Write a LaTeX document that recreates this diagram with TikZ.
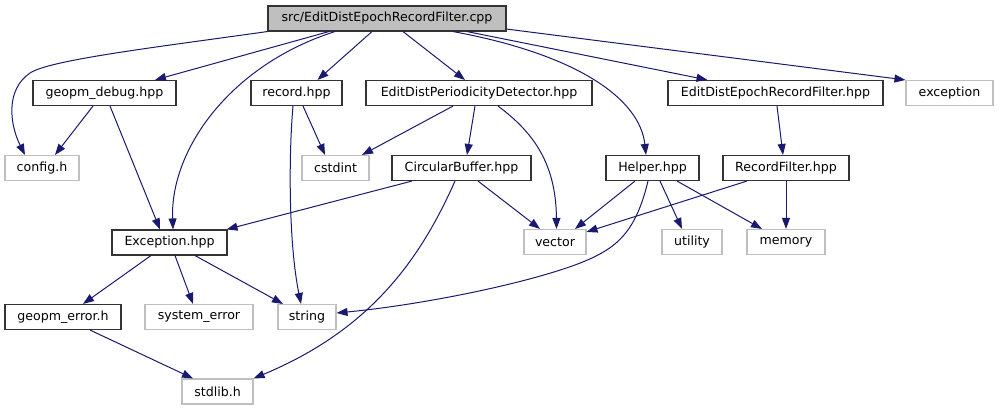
\documentclass[tikz,border=0pt]{standalone}
\usepackage{fontspec}
\setmainfont{DejaVu Sans}
\usetikzlibrary{arrows.meta}
\definecolor{edgec}{RGB}{25,25,112}
\definecolor{graybd}{RGB}{191,191,191}
\begin{document}
\begin{tikzpicture}[x=1pt,y=-1pt,
  box/.style={draw=black!80, line width=1.1pt, minimum height=25pt, inner sep=0pt, font=\fontsize{12.6}{14}\selectfont, fill=white},
  ext/.style={box, draw=graybd},
  rootbox/.style={box, fill=graybd},
  dep/.style={draw=edgec, line width=1pt, -{Triangle[length=11pt,width=8pt]}}]
\useasboundingbox (0,0) rectangle (999,411);
% nodes
\node[rootbox, minimum width=238pt] (root) at (387,18.5) {src/EditDistEpochRecordFilter.cpp};
\node[box, minimum width=143pt] (geopmdebug) at (104.5,93) {geopm\_debug.hpp};
\node[box, minimum width=91pt] (record) at (296.5,93) {record.hpp};
\node[box, minimum width=226pt] (edpd) at (479,93) {EditDistPeriodicityDetector.hpp};
\node[box, minimum width=215pt] (ederfh) at (775.5,93) {EditDistEpochRecordFilter.hpp};
\node[ext, minimum width=87pt] (exception) at (949.5,93) {exception};
\node[ext, minimum width=74pt] (config) at (42,168) {config.h};
\node[ext, minimum width=67pt] (cstdint) at (335.5,168) {cstdint};
\node[box, minimum width=139pt] (circ) at (461.5,168) {CircularBuffer.hpp};
\node[box, minimum width=93pt] (helper) at (652.5,168) {Helper.hpp};
\node[box, minimum width=126pt] (recfilt) at (786,168) {RecordFilter.hpp};
\node[box, minimum width=115pt] (exc) at (169.5,242.5) {Exception.hpp};
\node[ext, minimum width=62pt] (vector) at (555,242) {vector};
\node[ext, minimum width=60pt] (utility) at (692,242) {utility};
\node[ext, minimum width=78pt] (memory) at (786,242) {memory};
\node[box, minimum width=116pt] (gerr) at (63,317) {geopm\_error.h};
\node[ext, minimum width=108pt] (syserr) at (199,317) {system\_error};
\node[ext, minimum width=58pt] (string) at (307,317) {string};
\node[ext, minimum width=71pt] (stdlib) at (217.5,391.5) {stdlib.h};
% edges
\draw[dep] (root.south west) .. controls (150,48) and (50,60) .. (30,73) .. controls (5,90) and (10,125) .. ([xshift=-17pt]config.north);
\draw[dep] ([xshift=-58pt]root.south) -- ([xshift=50.5pt]geopmdebug.north);
\draw[dep] ([xshift=-52pt]root.south) .. controls (230,65) and (170,150) .. ([xshift=3.5pt]exc.north);
\draw[dep] ([xshift=-15pt]root.south) -- ([xshift=21pt]record.north);
\draw[dep] ([xshift=16pt]root.south) -- ([xshift=-14pt]edpd.north);
\draw[dep] ([xshift=66pt]root.south) .. controls (580,55) and (640,100) .. ([xshift=-6.5pt]helper.north);
\draw[dep] ([xshift=80pt]root.south) -- ([xshift=-68pt]ederfh.north);
\draw[dep] ([yshift=2.5pt]root.south east) -- (exception.north west);
\draw[dep] ([xshift=-11.5pt]geopmdebug.south) -- ([xshift=13pt]config.north);
\draw[dep] ([xshift=5.5pt]geopmdebug.south) -- ([xshift=-9.5pt]exc.north);
\draw[dep] ([xshift=6.5pt]record.south) -- ([xshift=-10.5pt]cstdint.north);
\draw[dep] ([xshift=-3.5pt]record.south) .. controls (289,150) and (288,240) .. ([xshift=-6pt]string.north);
\draw[dep] ([xshift=-26pt]edpd.south) -- ([xshift=26.5pt]cstdint.north);
\draw[dep] ([xshift=-4pt]edpd.south) -- ([xshift=5.5pt]circ.north);
\draw[dep] ([xshift=19pt]edpd.south) .. controls (530,130) and (556,160) .. ([xshift=1.5pt]vector.north);
\draw[dep] ([xshift=-49.5pt]circ.south) -- ([xshift=-1pt]exc.north east);
\draw[dep] ([xshift=16.5pt]circ.south) -- ([xshift=-15pt]vector.north);
\draw[dep] ([xshift=-6.5pt]circ.south) .. controls (420,260) and (370,330) .. (stdlib.north east);
\draw[dep] ([xshift=-17.5pt]helper.south) -- ([xshift=20pt]vector.north);
\draw[dep] ([xshift=-4.5pt]helper.south) .. controls (635,235) and (615,250) .. (575,265) .. controls (520,285) and (420,305) .. ([yshift=4pt]string.east);
\draw[dep] ([xshift=7.5pt]helper.south) -- ([xshift=-10pt]utility.north);
\draw[dep] ([xshift=24.5pt]helper.south) -- ([xshift=-24pt]memory.north);
\draw[dep] ([xshift=1.5pt]ederfh.south) -- ([xshift=-3pt]recfilt.north);
\draw[dep] ([xshift=-39pt]recfilt.south) -- ([yshift=-3pt]vector.north east);
\draw[dep] (recfilt.south) -- (memory.north);
\draw[dep] ([xshift=-18.5pt]exc.south) -- ([xshift=20pt]gerr.north);
\draw[dep] ([xshift=5.5pt]exc.south) -- ([xshift=-6pt]syserr.north);
\draw[dep] ([xshift=25.5pt]exc.south) -- ([xshift=-24pt]string.north);
\draw[dep] ([xshift=27pt]gerr.south) -- ([xshift=-24.5pt]stdlib.north);
\end{tikzpicture}
\end{document}
